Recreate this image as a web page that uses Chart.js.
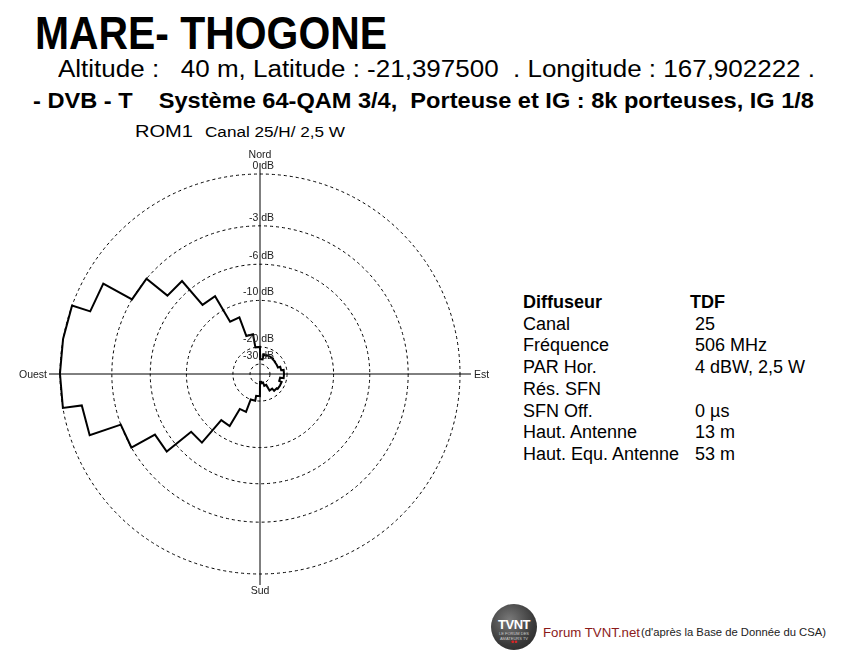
<!DOCTYPE html>
<html lang="fr">
<head>
<meta charset="utf-8">
<title>MARE- THOGONE</title>
<script src="https://cdn.jsdelivr.net/npm/chart.js@4.4.1/dist/chart.umd.min.js"></script>
<style>
    html, body { margin: 0; padding: 0; background: #fff; }
    body { width: 850px; height: 650px; position: relative; overflow: hidden;
           font-family: "Liberation Sans", Arial, sans-serif; color: #000; }
    .fit { position: absolute; white-space: pre; transform-origin: 0 0; line-height: 1; }
    .info { position: absolute; white-space: pre; font-size: 18px; line-height: 1; }
    #chartBox { position: absolute; left: 0; top: 140px; width: 500px; height: 460px; }
    #logo { position: absolute; left: 491px; top: 604px; width: 46px; height: 46px; border-radius: 50%;
            background: radial-gradient(circle at 40% 35%, #7a7a7a, #3a3a3a 60%, #222); }
    #logo span { position: absolute; left: 0; width: 46px; text-align: center; color: #fff; }
</style>
</head>
<body>

<div class="fit" data-w="352" style="left:35px; top:10px; font-size:46px; font-weight:bold;">MARE- THOGONE</div>
<div class="fit" data-w="757" style="left:58px; top:58px; font-size:23px;">Altitude :   40 m, Latitude : -21,397500  . Longitude : 167,902222 .</div>
<div class="fit" data-w="781" style="left:33px; top:90px; font-size:22px; font-weight:bold;">- DVB - T    Système 64-QAM 3/4,  Porteuse et IG : 8k porteuses, IG 1/8</div>
<div class="fit" data-w="58" style="left:135px; top:123px; font-size:17px;">ROM1</div>
<div class="fit" data-w="140" style="left:205px; top:125px; font-size:14px;">Canal 25/H/ 2,5 W</div>

<div id="infoTable"></div>

<div id="chartBox"><canvas id="patternChart" width="500" height="460"></canvas></div>

<div id="logo">
    <span style="top:13px; font-size:13px; font-weight:bold; letter-spacing:-0.5px;">TVNT</span>
    <span style="top:27px; font-size:4px; color:#ccc;">LE FORUM DES AMATEURS TV</span>
    <span style="top:33px; font-size:9px; color:#d22;">••</span>
</div>
<div class="fit" data-w="97" style="left:543px; top:626px; font-size:13px; color:#8b1a1a;">Forum TVNT.net</div>
<div class="fit" data-w="185" style="left:641px; top:627px; font-size:11.5px; color:#222;">(d'après la Base de Donnée du CSA)</div>

<script>
// azimuth (deg, from north, clockwise) where each 10 deg sector starts
const sectorStart = [0, 10, 20, 30, 40, 50, 60, 70, 80, 90, 100, 110,
    120, 130, 140, 150, 160, 170, 180, 190, 200, 210, 220, 230,
    240, 250, 260, 270, 280, 290, 300, 310, 320, 330, 340, 350];
// attenuation of the antenna pattern in each sector (dB)
const attenuationDb = [-26, -23.3, -23, -23, -23.3, -23.5, -23.5, -22.3, -21.2, -21.2, -22.8, -21.6,
    -21.6, -22.1, -23.5, -27.7, -31, -32.2, -22, -20, -16, -12, -8, -5,
    -3, -1, 0, 0, 0, -1, -3, -5, -8, -12, -16, -20];

const dbTicks = [0, -3, -6, -10, -20, -30];
const dbTickLabels = ['0 dB', '-3 dB', '-6 dB', '-10 dB', '-20 dB', '-30 dB'];
const compassLabels = ['Nord', 'Est', 'Sud', 'Ouest'];

const infoLabels = ['Diffuseur', 'Canal', 'Fréquence', 'PAR Hor.', 'Rés. SFN', 'SFN Off.', 'Haut. Antenne', 'Haut. Equ. Antenne'];
const infoValues = ['TDF', '25', '506 MHz', '4 dBW, 2,5 W', '', '0 µs', '13 m', '53 m'];

const NB_LABELS = 1440;   // 0,25 deg per label
const PER_DEG = NB_LABELS / 360;
const R0 = 200;           // radius of the 0 dB circle (scale units)
const R_MAX = 211;        // axes go a bit beyond the 0 dB circle

// the diagram uses a log-like radius: r = R0 * e^(dB/10)
function dbToRadius(db) {
    return R0 * Math.exp(db / 10);
}

// squeeze header texts to the width they have on the picture
function fitTexts() {
    document.querySelectorAll('.fit').forEach(el => {
        const w = el.getBoundingClientRect().width;
        const target = parseFloat(el.dataset.w);
        el.style.transform = 'scaleX(' + (target / w) + ')';
    });
}

function buildInfoTable() {
    const box = document.getElementById('infoTable');
    infoLabels.forEach((label, i) => {
        const cy = 302 + i * 21.7;
        const l = document.createElement('div');
        l.className = 'info';
        l.style.left = '523px';
        l.style.top = (cy - 9) + 'px';
        l.textContent = label;
        const v = document.createElement('div');
        v.className = 'info';
        v.style.left = (i === 0 ? 690 : 695) + 'px';
        v.style.top = (cy - 9) + 'px';
        v.textContent = infoValues[i];
        if (i === 0) {
            l.style.fontWeight = 'bold';
            v.style.fontWeight = 'bold';
        }
        box.appendChild(l);
        box.appendChild(v);
    });
}

// stepped pattern: each sector is a chord, with a radial step at each boundary
function buildPatternData() {
    const data = new Array(NB_LABELS).fill(null);
    const n = sectorStart.length;
    for (let k = 0; k < n; k++) {
        const idx = sectorStart[k] * PER_DEG;
        data[idx] = dbToRadius(attenuationDb[(k + n - 1) % n]);
        data[idx + 1] = dbToRadius(attenuationDb[k]);
    }
    return data;
}

// dB labels and compass names, placed from the radial scale
const axisLabelsPlugin = {
    id: 'axisLabels',
    afterDraw(chart) {
        const s = chart.scales.r;
        const ctx = chart.ctx;
        const rEnd = s.getDistanceFromCenterForValue(R_MAX);
        ctx.save();
        ctx.fillStyle = '#222';
        ctx.font = '10.5px "Liberation Sans", Arial, sans-serif';
        ctx.textBaseline = 'middle';
        ctx.textAlign = 'right';
        dbTicks.forEach((db, i) => {
            const y = s.yCenter - s.getDistanceFromCenterForValue(dbToRadius(db)) - 8;
            ctx.fillText(dbTickLabels[i], s.xCenter + 14, y);
        });
        ctx.textAlign = 'center';
        ctx.fillText(compassLabels[0], s.xCenter, s.yCenter - rEnd - 8);
        ctx.fillText(compassLabels[2], s.xCenter, s.yCenter + rEnd + 6);
        ctx.textAlign = 'left';
        ctx.fillText(compassLabels[1], s.xCenter + rEnd + 3, s.yCenter + 1);
        ctx.textAlign = 'right';
        ctx.fillText(compassLabels[3], s.xCenter - rEnd - 2, s.yCenter + 1);
        ctx.restore();
    }
};

function initializePatternChart() {
    const labels = Array.from({ length: NB_LABELS }, (_, i) => (i / PER_DEG) + '°');
    const ctx = document.getElementById('patternChart').getContext('2d');
    new Chart(ctx, {
        type: 'radar',
        data: {
            labels: labels,
            datasets: [{
                label: 'ROM1',
                data: buildPatternData(),
                borderColor: '#000',
                borderWidth: 2,
                borderJoinStyle: 'miter',
                pointRadius: 0,
                pointHitRadius: 0,
                fill: false,
                spanGaps: true,
                tension: 0
            }]
        },
        options: {
            responsive: false,
            animation: false,
            events: [],
            layout: { padding: { left: 49, right: 29, top: 23, bottom: 15 } },
            plugins: {
                legend: { display: false },
                tooltip: { enabled: false }
            },
            scales: {
                r: {
                    min: 0,
                    max: R_MAX,
                    startAngle: 0,
                    grid: {
                        circular: true,
                        color: '#000',
                        lineWidth: 1
                    },
                    border: { dash: [3, 3] },
                    angleLines: {
                        color: '#000',
                        lineWidth: c => (c.index % (90 * PER_DEG) === 0 ? 1 : 0)
                    },
                    pointLabels: { display: false },
                    ticks: { display: false },
                    afterBuildTicks: scale => {
                        scale.ticks = [{ value: 0 }].concat(dbTicks.map(db => ({ value: dbToRadius(db) })));
                    }
                }
            }
        },
        plugins: [axisLabelsPlugin]
    });
}

document.addEventListener('DOMContentLoaded', function() {
    fitTexts();
    buildInfoTable();
    initializePatternChart();
});
</script>
</body>
</html>
